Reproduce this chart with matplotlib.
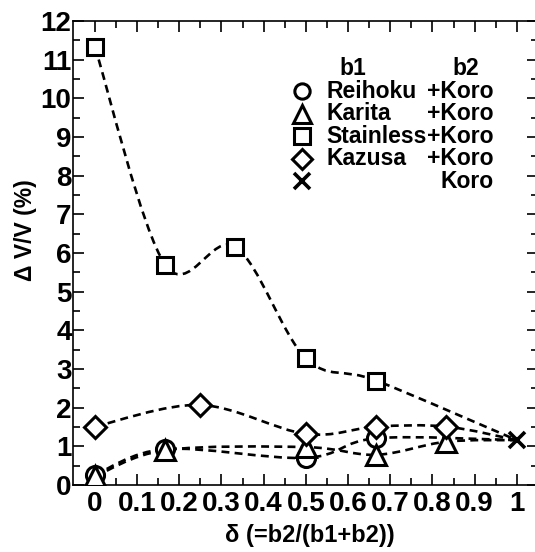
import matplotlib.pyplot as plt
import numpy as np
from matplotlib.path import Path
from matplotlib.patches import PathPatch

plt.rcParams['font.family'] = ['Liberation Sans', 'DejaVu Sans']
plt.rcParams['font.weight'] = 'bold'

# data
reihoku_x = [0, 0.167, 0.5, 0.667, 1]
reihoku_y = [0.26, 0.93, 0.70, 1.21, 1.16]
karita_x = [0, 0.167, 0.5, 0.667, 0.833, 1]
karita_y = [0.22, 0.90, 0.98, 0.78, 1.12, 1.16]
stainless_x = [0, 0.167, 0.333, 0.5, 0.667, 1]
stainless_y = [11.33, 5.69, 6.16, 3.28, 2.70, 1.16]
kazusa_x = [0, 0.25, 0.5, 0.667, 0.833, 1]
kazusa_y = [1.51, 2.07, 1.32, 1.51, 1.51, 1.16]
koro_x = [1]
koro_y = [1.16]

xticks = [0, 0.1, 0.2, 0.3, 0.4, 0.5, 0.6, 0.7, 0.8, 0.9, 1]
xticklabels = ['0', '0.1', '0.2', '0.3', '0.4', '0.5', '0.6', '0.7', '0.8', '0.9', '1']
yticks = list(range(0, 13))

legend_names = ['Reihoku', 'Karita', 'Stainless', 'Kazusa', '']
legend_b2 = ['+Koro', '+Koro', '+Koro', '+Koro', 'Koro']

fig = plt.figure(figsize=(5.35, 5.52), dpi=100)
ax = fig.add_axes([0.1364, 0.1214, 0.869, 0.8406])


def smooth_line(ax, xs, ys):
    # bezier curve through the points (catmull-rom style tangents)
    xs = np.asarray(xs, float)
    ys = np.asarray(ys, float)
    n = len(xs)
    verts = [(xs[0], ys[0])]
    codes = [Path.MOVETO]
    for i in range(n - 1):
        p0 = i - 1 if i > 0 else i
        p3 = i + 2 if i + 2 < n else i + 1
        c1 = (xs[i] + (xs[i + 1] - xs[p0]) / 6, ys[i] + (ys[i + 1] - ys[p0]) / 6)
        c2 = (xs[i + 1] - (xs[p3] - xs[i]) / 6, ys[i + 1] - (ys[p3] - ys[i]) / 6)
        verts += [c1, c2, (xs[i + 1], ys[i + 1])]
        codes += [Path.CURVE4] * 3
    patch = PathPatch(Path(verts, codes), facecolor='none', edgecolor='black',
                      lw=1.9, linestyle=(0, (3, 2)), zorder=2)
    ax.add_patch(patch)


mk = dict(color='black', markerfacecolor='white', markeredgewidth=2.2,
          linestyle='none', zorder=3)

series = [
    (reihoku_x, reihoku_y, 'o', 13),
    (karita_x, karita_y, '^', 15),
    (stainless_x, stainless_y, 's', 12),
    (kazusa_x, kazusa_y, 'D', 11.5),
]
for xs, ys, m, s in series:
    smooth_line(ax, xs, ys)
for xs, ys, m, s in series:
    # last point (x=1) is the Koro point, drawn with the cross
    ax.plot(xs[:-1], ys[:-1], marker=m, markersize=s, **mk)
ax.plot(koro_x, koro_y, marker='x', markersize=12, color='black',
        markeredgewidth=2.6, linestyle='none', zorder=4)

ax.set_xlim(-0.052, 1.05)
ax.set_ylim(0, 12)
ax.set_xticks(xticks)
ax.set_xticklabels(xticklabels)
ax.set_xticks(np.arange(0, 1.01, 0.05), minor=True)
ax.set_yticks(yticks)
ax.set_yticks(np.arange(0, 12.01, 0.5), minor=True)
ax.tick_params(which='both', direction='in', top=True, right=True, width=1.2)
ax.tick_params(which='major', length=8)
ax.tick_params(which='minor', length=5)
ax.tick_params(axis='x', labelsize=20, pad=4)
ax.tick_params(axis='y', labelsize=20, pad=1)
for sp in ax.spines.values():
    sp.set_linewidth(1.2)

ax.set_ylabel('Δ V/V (%)', fontsize=16.5, fontweight='bold')
ax.yaxis.set_label_coords(-0.077, 0.55)
ax.set_xlabel('δ (=b2/(b1+b2))', fontsize=17, fontweight='bold')
ax.xaxis.set_label_coords(0.51, -0.085)

# legend built by hand
rows_y = [10.18, 9.60, 9.02, 8.44, 7.86]
leg_markers = [('o', 11), ('^', 13), ('s', 11), ('D', 10), ('x', 12)]
ax.text(0.612, 10.78, 'b1', fontsize=16.5, ha='center', va='center')
ax.text(0.878, 10.78, 'b2', fontsize=16.5, ha='center', va='center')
for yy, (m, s), name, b2 in zip(rows_y, leg_markers, legend_names, legend_b2):
    if m == 'x':
        ax.plot([0.49], [yy], marker=m, markersize=s, color='black',
                markeredgewidth=2.6, linestyle='none')
    else:
        ax.plot([0.49], [yy], marker=m, markersize=s, **mk)
    ax.text(0.548, yy, name, fontsize=16.5, ha='left', va='center')
    ax.text(0.945, yy, b2, fontsize=16.5, ha='right', va='center')

fig.savefig('out.png', dpi=100)
